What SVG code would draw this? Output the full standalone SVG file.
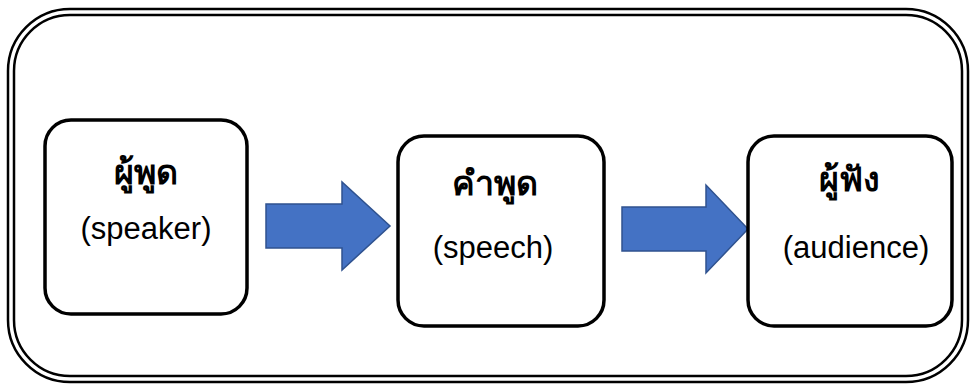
<svg xmlns="http://www.w3.org/2000/svg" width="972" height="385" viewBox="0 0 972 385">
<style>
.frame{fill:none;stroke:#000;stroke-width:2.5}
.box{fill:#fff;stroke:#000;stroke-width:3.5}
.arrow{fill:#4472C4;stroke:#2F528F;stroke-width:1.5;stroke-linejoin:miter}
.th{font-family:"Noto Sans","DejaVu Sans",sans-serif;font-weight:bold;font-size:34px;fill:#000;text-anchor:middle}
.en{font-family:"Liberation Sans",Arial,sans-serif;font-size:31px;fill:#000;text-anchor:middle}
</style>
<rect width="972" height="385" fill="#fff"/>
<g id="frame">
<rect class="frame" x="8" y="9" width="960" height="373" rx="62"/>
<rect class="frame" x="14" y="15" width="948" height="361" rx="56"/>
</g>
<g id="connectors">
<polygon class="arrow" points="266,204 342,204 342,182 390,226 342,270 342,248 266,248"/>
<polygon class="arrow" points="622,207 706,207 706,185 748,229 706,273 706,251 622,251"/>
</g>
<g id="speaker">
<rect class="box" x="45" y="120" width="202" height="194" rx="26"/>
<text class="th" x="146" y="184">ผู้พูด</text>
<text class="en" x="146" y="239">(speaker)</text>
</g>
<g id="speech">
<rect class="box" x="398" y="136" width="206" height="190" rx="26"/>
<text class="th" x="495" y="195">คำพูด</text>
<text class="en" x="493" y="258">(speech)</text>
</g>
<g id="audience">
<rect class="box" x="748" y="136" width="204" height="190" rx="26"/>
<text class="th" x="849" y="191">ผู้ฟัง</text>
<text class="en" x="856" y="258">(audience)</text>
</g>
</svg>
